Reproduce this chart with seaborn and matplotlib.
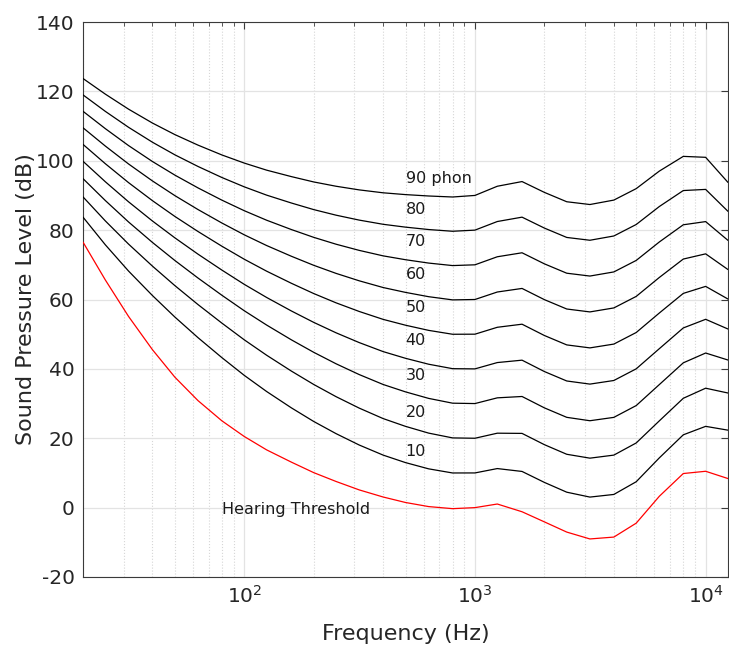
import matplotlib
matplotlib.use("Agg")
import matplotlib.pyplot as plt
import numpy as np
import pandas as pd
import seaborn as sns
from matplotlib.ticker import FixedLocator, NullFormatter, LogLocator

# ---- data ----
freqs = [20, 25, 31.5, 40, 50, 63, 80, 100, 125, 160, 200, 250, 315, 400, 500,
         630, 800, 1000, 1250, 1600, 2000, 2500, 3150, 4000, 5000, 6300, 8000,
         10000, 12500]

phon_0 = [76.55, 65.62, 55.13, 45.53, 37.63, 30.86, 25.02, 20.51, 16.65, 13.12,
          10.09, 7.54, 5.11, 3.06, 1.48, 0.30, -0.30, 0.0, 1.04, -1.19, -4.11,
          -7.05, -9.03, -8.49, -4.48, 3.28, 9.83, 10.48, 8.38]
phon_10 = [83.75, 75.76, 68.21, 61.14, 54.96, 49.01, 43.24, 38.13, 33.48, 28.77,
           24.84, 21.33, 18.05, 15.14, 12.98, 11.18, 9.99, 10.0, 11.26, 10.43,
           7.27, 4.45, 3.04, 3.80, 7.46, 14.35, 20.99, 23.43, 22.33]
phon_20 = [89.58, 82.65, 75.98, 69.62, 64.02, 58.55, 53.19, 48.38, 43.94, 39.37,
           35.51, 31.99, 28.69, 25.67, 23.43, 21.48, 20.10, 20.0, 21.46, 21.40,
           18.15, 15.38, 14.26, 15.14, 18.64, 25.02, 31.52, 34.43, 33.04]
phon_30 = [94.85, 88.52, 82.36, 76.45, 71.26, 66.20, 61.22, 56.76, 52.64, 48.38,
           44.78, 41.47, 38.36, 35.50, 33.37, 31.49, 30.11, 30.0, 31.65, 32.04,
           28.76, 26.03, 25.05, 26.02, 29.42, 35.48, 41.74, 44.57, 42.55]
phon_40 = [99.85, 93.94, 88.17, 82.63, 77.79, 73.08, 68.48, 64.37, 60.59, 56.70,
           53.41, 50.40, 47.58, 44.98, 43.05, 41.34, 40.06, 40.0, 41.82, 42.51,
           39.23, 36.51, 35.61, 36.65, 40.01, 45.83, 51.80, 54.29, 51.49]
phon_50 = [104.72, 99.14, 93.70, 88.49, 83.96, 79.61, 75.36, 71.61, 68.17, 64.68,
           61.72, 59.04, 56.55, 54.27, 52.59, 51.10, 49.98, 50.0, 51.99, 52.88,
           49.62, 46.91, 46.05, 47.15, 50.48, 56.11, 61.76, 63.78, 60.13]
phon_60 = [109.51, 104.23, 99.08, 94.18, 89.96, 85.94, 82.05, 78.65, 75.56, 72.47,
           69.86, 67.53, 65.39, 63.45, 62.05, 60.81, 59.89, 60.0, 62.16, 63.19,
           59.96, 57.26, 56.42, 57.57, 60.89, 66.36, 71.66, 73.16, 68.63]
phon_70 = [114.26, 109.25, 104.38, 99.78, 95.87, 92.18, 88.64, 85.60, 82.86, 80.17,
           77.92, 75.94, 74.16, 72.58, 71.47, 70.50, 69.78, 70.0, 72.32, 73.47,
           70.28, 67.58, 66.76, 67.95, 71.26, 76.59, 81.54, 82.46, 77.04]
phon_80 = [118.99, 114.23, 109.65, 105.34, 101.72, 98.36, 95.17, 92.48, 90.09, 87.82,
           85.92, 84.31, 82.89, 81.68, 80.86, 80.17, 79.67, 80.0, 82.48, 83.74,
           80.59, 77.89, 77.08, 78.31, 81.62, 86.81, 91.41, 91.74, 85.41]
phon_90 = [123.71, 119.20, 114.88, 110.87, 107.55, 104.51, 101.67, 99.33, 97.29, 95.43,
           93.89, 92.65, 91.60, 90.76, 90.24, 89.84, 89.55, 90.0, 92.65, 94.00,
           90.88, 88.18, 87.38, 88.66, 91.96, 97.02, 101.26, 100.99, 93.75]

levels = [0, 10, 20, 30, 40, 50, 60, 70, 80, 90]
contours = [phon_0, phon_10, phon_20, phon_30, phon_40, phon_50, phon_60,
            phon_70, phon_80, phon_90]

label_texts = ["10", "20", "30", "40", "50", "60", "70", "80", "90 phon"]
label_y = [15.0, 26.1, 36.7, 46.8, 56.4, 66.0, 75.3, 84.7, 93.6]
label_freq = 500
threshold_text = "Hearing Threshold"
threshold_pos = (80, -1.7)

y_ticks = [-20, 0, 20, 40, 60, 80, 100, 120, 140]

# ---- build long table ----
rows = []
for lvl, vals in zip(levels, contours):
    for f, v in zip(freqs, vals):
        rows.append({"freq": f, "spl": v, "phon": lvl})
df = pd.DataFrame(rows)

sns.set_theme(style="white")
plt.rcParams['font.family'] = ['DejaVu Sans']
plt.rcParams['axes.unicode_minus'] = False

fig = plt.figure(figsize=(7.29, 6.5), dpi=100)
ax = fig.add_axes([83 / 729, 1 - 577 / 650, (728 - 83) / 729, (577 - 22) / 650])

palette = {lvl: ("#ff0000" if lvl == 0 else "#000000") for lvl in levels}
sns.lineplot(data=df, x="freq", y="spl", hue="phon", palette=palette,
             legend=False, ax=ax, linewidth=0.9, estimator=None, sort=False,
             zorder=3)

ax.set_xscale("log")
ax.set_xlim(20, 12500)
ax.set_ylim(-20, 140)
ax.yaxis.set_major_locator(FixedLocator(y_ticks))
ax.xaxis.set_major_locator(LogLocator(base=10, numticks=10))
ax.xaxis.set_minor_locator(LogLocator(base=10, subs=np.arange(2, 10), numticks=20))
ax.xaxis.set_minor_formatter(NullFormatter())

ax.grid(which="major", axis="both", color="#e3e3e3", linestyle="-", linewidth=0.9, zorder=0)
ax.grid(which="minor", axis="x", color="#d6d6d6", linestyle=":", linewidth=0.8, zorder=0)

for s in ax.spines.values():
    s.set_color("#3a3a3a")
    s.set_linewidth(0.8)

ax.tick_params(which="both", direction="in", top=True, right=True,
               colors="#3a3a3a", labelcolor="#262626")
ax.tick_params(which="major", length=5, width=0.8, labelsize=14.5, pad=6)
ax.tick_params(which="minor", length=3, width=0.6)

ax.set_xlabel("Frequency (Hz)", fontsize=16, color="#262626", labelpad=12)
ax.set_ylabel("Sound Pressure Level (dB)", fontsize=16, color="#262626")
ax.yaxis.set_label_coords(-0.073, 0.5)

for t, y in zip(label_texts, label_y):
    ax.text(label_freq, y, t, fontsize=11.5, color="#1a1a1a", ha="left", va="baseline", zorder=4)
ax.text(threshold_pos[0], threshold_pos[1], threshold_text, fontsize=11.5,
        color="#1a1a1a", ha="left", va="baseline", zorder=4)

fig.savefig("out.png", dpi=100)
